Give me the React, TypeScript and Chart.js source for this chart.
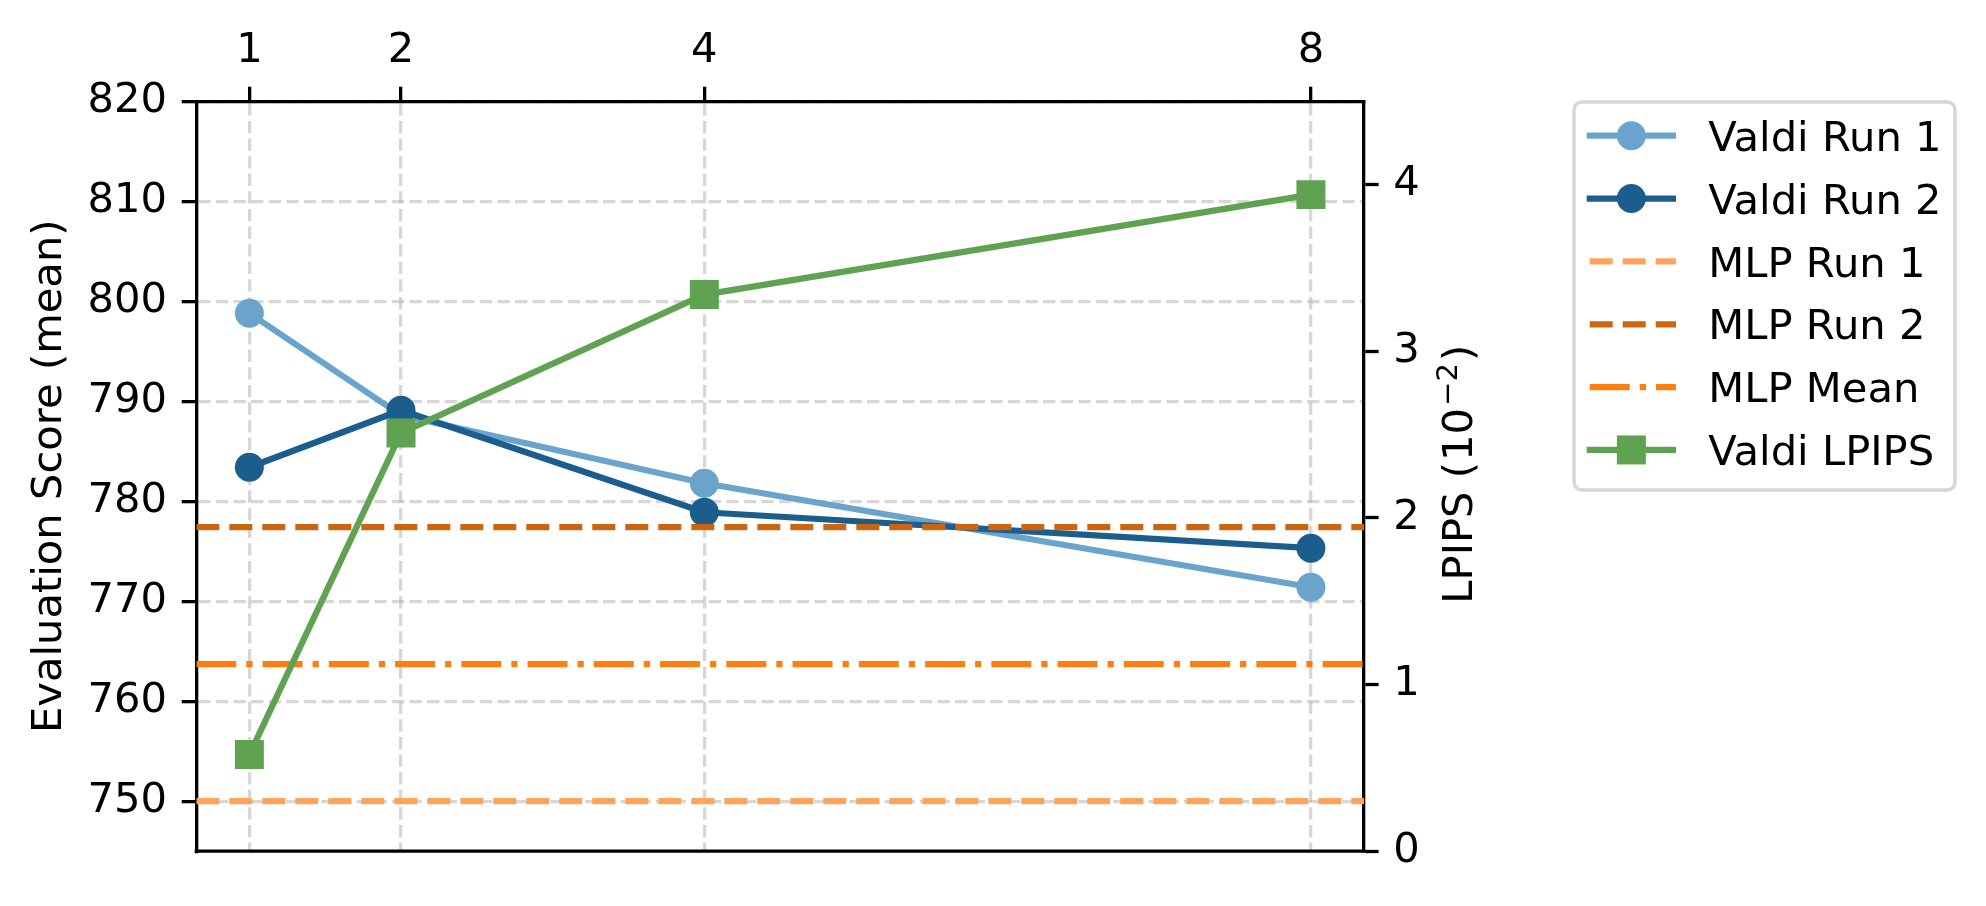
import React, { useEffect, useRef } from "react";
import { Chart, registerables } from "chart.js";

Chart.register(...registerables);

// ---------- data ----------
const X_VALUES = [1, 2, 4, 8];
const X_TICKS = [1, 2, 4, 8];
const Y_TICKS = [750, 760, 770, 780, 790, 800, 810, 820];
const Y1_TICKS = [0, 1, 2, 3, 4];
const VALDI_RUN1 = [798.8, 788.6, 781.8, 771.4];
const VALDI_RUN2 = [783.4, 789.1, 778.9, 775.3];
const VALDI_LPIPS = [0.58, 2.51, 3.34, 3.94];
const MLP_RUN1 = 750.0;
const MLP_RUN2 = 777.4;
const MLP_MEAN = 763.7;
const X_MIN = 0.65;
const X_MAX = 8.35;
const Y_MIN = 745;
const Y_MAX = 820;
const Y1_MIN = 0;
const Y1_MAX = 4.5;

const LEGEND_LABELS = [
  "Valdi Run 1",
  "Valdi Run 2",
  "MLP Run 1",
  "MLP Run 2",
  "MLP Mean",
  "Valdi LPIPS",
];

// ---------- styles ----------
const W = 1986;
const H = 906;
const FONT = '"DejaVu Sans", "Liberation Sans", sans-serif';
const FS = 41.67;
const LW = 6.25;
const SPINE = 3.3;
const TICK_LEN = 14.6;
const C_RUN1 = "#6aa4cc";
const C_RUN2 = "#1b5e8e";
const C_MLP1 = "#fea55b";
const C_MLP2 = "#cd6410";
const C_MEAN = "#ff7f0e";
const C_LPIPS = "#5fa251";
const GRID = "rgba(176,176,176,0.5)";
const DASH = [23, 10];
const DASHDOT = [40, 10, 6.25, 10];

const extrasPlugin = {
  id: "extras",
  afterDraw(chart: any) {
    const ctx = chart.ctx as CanvasRenderingContext2D;
    const a = chart.chartArea;
    ctx.save();
    // bottom spine
    ctx.strokeStyle = "#000";
    ctx.lineWidth = SPINE;
    ctx.beginPath();
    ctx.moveTo(a.left - SPINE / 2, a.bottom);
    ctx.lineTo(a.right + SPINE / 2, a.bottom);
    ctx.stroke();

    ctx.fillStyle = "#000";
    // left title
    ctx.save();
    ctx.translate(61, (a.top + a.bottom) / 2);
    ctx.rotate(-Math.PI / 2);
    ctx.font = `${FS}px ${FONT}`;
    ctx.textAlign = "center";
    ctx.textBaseline = "alphabetic";
    ctx.fillText("Evaluation Score (mean)", 0, 0);
    ctx.restore();

    // right title with superscript
    ctx.save();
    ctx.translate(1471.7, (a.top + a.bottom) / 2 - 2);
    ctx.rotate(-Math.PI / 2);
    ctx.textAlign = "left";
    ctx.textBaseline = "alphabetic";
    const big = `${FS}px ${FONT}`;
    const small = `${FS * 0.7}px ${FONT}`;
    const segs = [
      { t: "LPIPS (", f: big, dy: 0, gap: 0 },
      { t: "10", f: big, dy: 0, gap: 1 },
      { t: "\u22122", f: small, dy: -15, gap: 2 },
      { t: ")", f: big, dy: 0, gap: 2 },
    ];
    let total = 0;
    const widths: number[] = [];
    for (const s of segs) {
      ctx.font = s.f;
      const w = ctx.measureText(s.t).width;
      widths.push(w);
      total += w + s.gap;
    }
    let x = -total / 2;
    segs.forEach((s, i) => {
      x += s.gap;
      ctx.font = s.f;
      ctx.fillText(s.t, x, s.dy);
      x += widths[i];
    });
    ctx.restore();

    // legend
    const lx = 1574,
      ly = 102,
      lw = 381,
      lh = 388,
      r = 8;
    ctx.beginPath();
    ctx.moveTo(lx + r, ly);
    ctx.lineTo(lx + lw - r, ly);
    ctx.arcTo(lx + lw, ly, lx + lw, ly + r, r);
    ctx.lineTo(lx + lw, ly + lh - r);
    ctx.arcTo(lx + lw, ly + lh, lx + lw - r, ly + lh, r);
    ctx.lineTo(lx + r, ly + lh);
    ctx.arcTo(lx, ly + lh, lx, ly + lh - r, r);
    ctx.lineTo(lx, ly + r);
    ctx.arcTo(lx, ly, lx + r, ly, r);
    ctx.closePath();
    ctx.fillStyle = "rgba(255,255,255,0.8)";
    ctx.fill();
    ctx.strokeStyle = "#d6d6d6";
    ctx.lineWidth = 3.5;
    ctx.stroke();

    const items = [
      { c: C_RUN1, dash: [] as number[], marker: "circle" },
      { c: C_RUN2, dash: [] as number[], marker: "circle" },
      { c: C_MLP1, dash: DASH, marker: "" },
      { c: C_MLP2, dash: DASH, marker: "" },
      { c: C_MEAN, dash: DASHDOT, marker: "" },
      { c: C_LPIPS, dash: [] as number[], marker: "square" },
    ];
    const hx1 = 1586.7,
      hx2 = 1676,
      hmx = (hx1 + hx2) / 2;
    items.forEach((it, i) => {
      const y = 135.7 + i * 62.85;
      ctx.save();
      ctx.strokeStyle = it.c;
      ctx.lineWidth = LW;
      ctx.lineCap = "butt";
      ctx.setLineDash(it.dash);
      ctx.beginPath();
      ctx.moveTo(it.dash.length ? hx1 + 3 : hx1, y);
      ctx.lineTo(hx2, y);
      ctx.stroke();
      ctx.setLineDash([]);
      ctx.fillStyle = it.c;
      if (it.marker === "circle") {
        ctx.beginPath();
        ctx.arc(hmx, y, 14.5, 0, Math.PI * 2);
        ctx.fill();
      } else if (it.marker === "square") {
        ctx.fillRect(hmx - 14.5, y - 14.5, 29, 29);
      }
      ctx.restore();
      ctx.fillStyle = "#000";
      ctx.font = `${FS}px ${FONT}`;
      ctx.textAlign = "left";
      ctx.textBaseline = "alphabetic";
      ctx.fillText(LEGEND_LABELS[i], 1708.3, y + 15.2);
    });
    ctx.restore();
  },
};

const tickFont = { family: FONT, size: FS, lineHeight: 1.0 };

export default function App() {
  const ref = useRef<HTMLCanvasElement | null>(null);

  useEffect(() => {
    if (!ref.current) return;
    const pts = (ys: number[]) => X_VALUES.map((x, i) => ({ x, y: ys[i] }));
    const hline = (v: number) => [
      { x: X_MIN, y: v },
      { x: X_MAX, y: v },
    ];
    const chart = new Chart(ref.current, {
      type: "line",
      data: {
        datasets: [
          {
            label: LEGEND_LABELS[0],
            data: pts(VALDI_RUN1),
            yAxisID: "y",
            borderColor: C_RUN1,
            backgroundColor: C_RUN1,
            borderWidth: LW,
            pointRadius: 14.5,
            pointBorderWidth: 0,
            pointStyle: "circle",
            borderJoinStyle: "round",
            order: 5,
          },
          {
            label: LEGEND_LABELS[1],
            data: pts(VALDI_RUN2),
            yAxisID: "y",
            borderColor: C_RUN2,
            backgroundColor: C_RUN2,
            borderWidth: LW,
            pointRadius: 14.5,
            pointBorderWidth: 0,
            pointStyle: "circle",
            borderJoinStyle: "round",
            order: 4,
          },
          {
            label: LEGEND_LABELS[2],
            data: hline(MLP_RUN1),
            yAxisID: "y",
            borderColor: C_MLP1,
            borderWidth: LW,
            borderDash: DASH,
            pointRadius: 0,
            order: 3,
          },
          {
            label: LEGEND_LABELS[3],
            data: hline(MLP_RUN2),
            yAxisID: "y",
            borderColor: C_MLP2,
            borderWidth: LW,
            borderDash: DASH,
            pointRadius: 0,
            order: 2,
          },
          {
            label: LEGEND_LABELS[4],
            data: hline(MLP_MEAN),
            yAxisID: "y",
            borderColor: C_MEAN,
            borderWidth: LW,
            borderDash: DASHDOT,
            pointRadius: 0,
            order: 1,
          },
          {
            label: LEGEND_LABELS[5],
            data: pts(VALDI_LPIPS),
            yAxisID: "y1",
            borderColor: C_LPIPS,
            backgroundColor: C_LPIPS,
            borderWidth: LW,
            pointRadius: 20.5,
            pointBorderWidth: 0,
            pointStyle: "rect",
            borderJoinStyle: "round",
            order: 0,
          },
        ],
      },
      options: {
        responsive: false,
        animation: false,
        devicePixelRatio: 1,
        layout: { padding: { left: 0, top: 0, right: 0, bottom: H - 851.2 } },
        plugins: {
          legend: { display: false },
          tooltip: { enabled: false },
          title: { display: false },
        },
        scales: {
          x: {
            type: "linear",
            position: "top",
            min: X_MIN,
            max: X_MAX,
            afterBuildTicks: (s: any) => {
              s.ticks = X_TICKS.map((v) => ({ value: v }));
            },
            afterFit: (s: any) => {
              s.height = 101.3;
            },
            ticks: {
              font: tickFont,
              color: "#000",
              padding: TICK_LEN,
              maxRotation: 0,
              autoSkip: false,
            },
            grid: {
              display: true,
              color: GRID,
              lineWidth: SPINE,
              drawTicks: true,
              tickLength: TICK_LEN,
              tickColor: "#000",
              tickWidth: SPINE,
            },
            border: { display: true, color: "#000", width: SPINE, dash: [12.3, 5.3] },
          },
          y: {
            type: "linear",
            position: "left",
            min: Y_MIN,
            max: Y_MAX,
            afterBuildTicks: (s: any) => {
              s.ticks = Y_TICKS.map((v) => ({ value: v }));
            },
            afterFit: (s: any) => {
              s.width = 196.3;
            },
            ticks: {
              font: tickFont,
              color: "#000",
              padding: TICK_LEN,
              autoSkip: false,
            },
            grid: {
              display: true,
              color: GRID,
              lineWidth: SPINE,
              drawTicks: true,
              tickLength: TICK_LEN,
              tickColor: "#000",
              tickWidth: SPINE,
            },
            border: { display: true, color: "#000", width: SPINE, dash: [12.3, 5.3] },
          },
          y1: {
            type: "linear",
            position: "right",
            min: Y1_MIN,
            max: Y1_MAX,
            afterBuildTicks: (s: any) => {
              s.ticks = Y1_TICKS.map((v) => ({ value: v }));
            },
            afterFit: (s: any) => {
              s.width = W - 1364;
            },
            ticks: {
              font: tickFont,
              color: "#000",
              padding: TICK_LEN,
              autoSkip: false,
            },
            grid: {
              display: true,
              drawOnChartArea: false,
              drawTicks: true,
              tickLength: TICK_LEN,
              tickColor: "#000",
              tickWidth: SPINE,
            },
            border: { display: true, color: "#000", width: SPINE },
          },
        },
      },
      plugins: [extrasPlugin],
    } as any);
    return () => chart.destroy();
  }, []);

  return (
    <div style={{ position: "absolute", left: 0, top: 0, width: W, height: H, background: "#fff" }}>
      <canvas ref={ref} width={W} height={H} style={{ width: W, height: H, display: "block" }} />
    </div>
  );
}
